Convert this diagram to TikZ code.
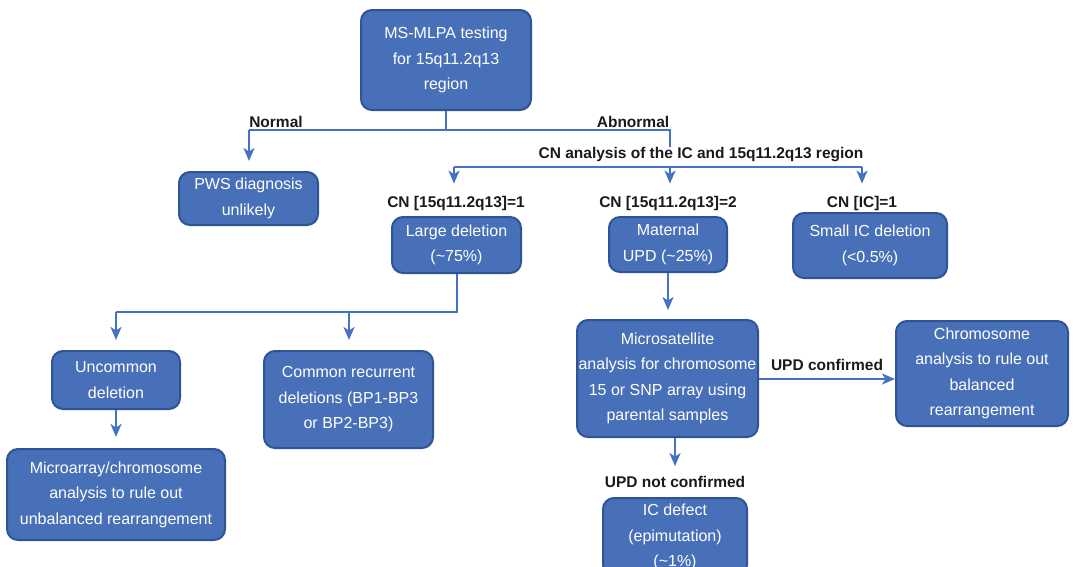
\documentclass[tikz,border=0pt]{standalone}
\usepackage{fontspec}
\setmainfont{Liberation Sans}
\usetikzlibrary{arrows.meta}
\definecolor{boxfill}{HTML}{4870B8}
\definecolor{boxedge}{HTML}{2E5496}
\definecolor{lncol}{HTML}{4472C4}
\definecolor{labcol}{HTML}{1A1A1A}
\tikzset{
  box/.style={draw=boxedge, line width=2pt, fill=boxfill, rounded corners=11pt,
    text=white, align=center, inner sep=0pt, font=\fontsize{16}{25.5}\selectfont},
  lab/.style={text=labcol, font=\bfseries\fontsize{15.5}{17}\selectfont, inner sep=0pt},
  ln/.style={draw=lncol, line width=2pt},
  arr/.style={ln, -{Stealth[length=13pt,width=11pt,inset=3.5pt]}}
}
\begin{document}
\begin{tikzpicture}[x=1pt,y=-1pt]
\useasboundingbox (0,0) rectangle (1073,566);
\clip (0,0) rectangle (1073,566);
% boxes
\node[box, minimum width=170pt, minimum height=100pt] (top) at (446,60) {MS-MLPA testing\\for 15q11.2q13\\region};
\node[box, minimum width=139pt, minimum height=53pt] (pws) at (248.5,198.5) {PWS diagnosis\\unlikely};
\node[box, minimum width=129pt, minimum height=56pt] (large) at (456.5,245) {Large deletion\\(\textasciitilde75\%)};
\node[box, minimum width=118pt, minimum height=55pt] (upd) at (668,244.5) {Maternal\\UPD (\textasciitilde25\%)};
\node[box, minimum width=154pt, minimum height=65pt] (small) at (870,245.5) {Small IC deletion\\(<0.5\%)};
\node[box, minimum width=128pt, minimum height=58pt] (unc) at (116,380) {Uncommon\\deletion};
\node[box, minimum width=169pt, minimum height=97pt] (common) at (348.5,399.5) {Common recurrent\\deletions (BP1-BP3\\or BP2-BP3)};
\node[box, minimum width=218pt, minimum height=91pt] (micro) at (116,494.5) {Microarray/chromosome\\analysis to rule out\\unbalanced rearrangement};
\node[box, minimum width=181pt, minimum height=117pt] (msat) at (667.5,378.5) {Microsatellite\\analysis for chromosome\\15 or SNP array using\\parental samples};
\node[box, minimum width=172pt, minimum height=105pt] (chrom) at (982,373.5) {Chromosome\\analysis to rule out\\balanced\\rearrangement};
\node[box, minimum width=144pt, minimum height=78pt, anchor=north] (icd) at (675,497) {IC defect\\(epimutation)\\(\textasciitilde1\%)};
% labels
\node[lab] (lnorm) at (276,122) {Normal};
\node[lab] (labn) at (633,122) {Abnormal};
\node[lab] (lcn) at (701,155) {CN analysis of the IC and 15q11.2q13 region};
\node[lab] (l1) at (456,203) {CN [15q11.2q13]=1};
\node[lab] (l2) at (668,203) {CN [15q11.2q13]=2};
\node[lab] (l3) at (862,203) {CN [IC]=1};
\node[lab] (lconf) at (827,365) {UPD confirmed};
\node[lab] (lnot) at (675,482) {UPD not confirmed};
% junctions
\coordinate (jn) at (249,130);
\coordinate (ja) at (670,130);
\coordinate (jae) at (670,147);
\coordinate (jc1) at (454,167);
\coordinate (jc2) at (670,167);
\coordinate (jc3) at (862,167);
\coordinate (jl) at (457,312);
\coordinate (jl1) at (116,312);
\coordinate (jl2) at (349,312);
\coordinate (jconf) at (758,379);
% connectors
\draw[ln] (top.south) -- (top.south |- jn);
\draw[ln] (jn) -- (ja) -- (jae);
\draw[arr] (jn) -- ([yshift=10pt]pws.north -| jn);
\draw[ln] (jc1) -- (jc3);
\draw[arr] (jc1) -- ([yshift=12pt]l1.north -| jc1);
\draw[arr] (jc2) -- ([yshift=12pt]l2.north -| jc2);
\draw[arr] (jc3) -- ([yshift=12pt]l3.north -| jc3);
\draw[ln] (large.south -| jl) -- (jl) -- (jl1);
\draw[arr] (jl1) -- ([yshift=10pt]unc.north -| jl1);
\draw[arr] (jl2) -- ([yshift=10pt]common.north -| jl2);
\draw[arr] (unc.south) -- ([yshift=11pt]micro.north);
\draw[arr] (upd.south) -- ([yshift=9pt]msat.north -| upd.south);
\draw[arr] (msat.east |- jconf) -- (chrom.west |- jconf);
\draw[arr] (msat.south -| icd.north) -- ([yshift=10pt]lnot.north);
\end{tikzpicture}
\end{document}
